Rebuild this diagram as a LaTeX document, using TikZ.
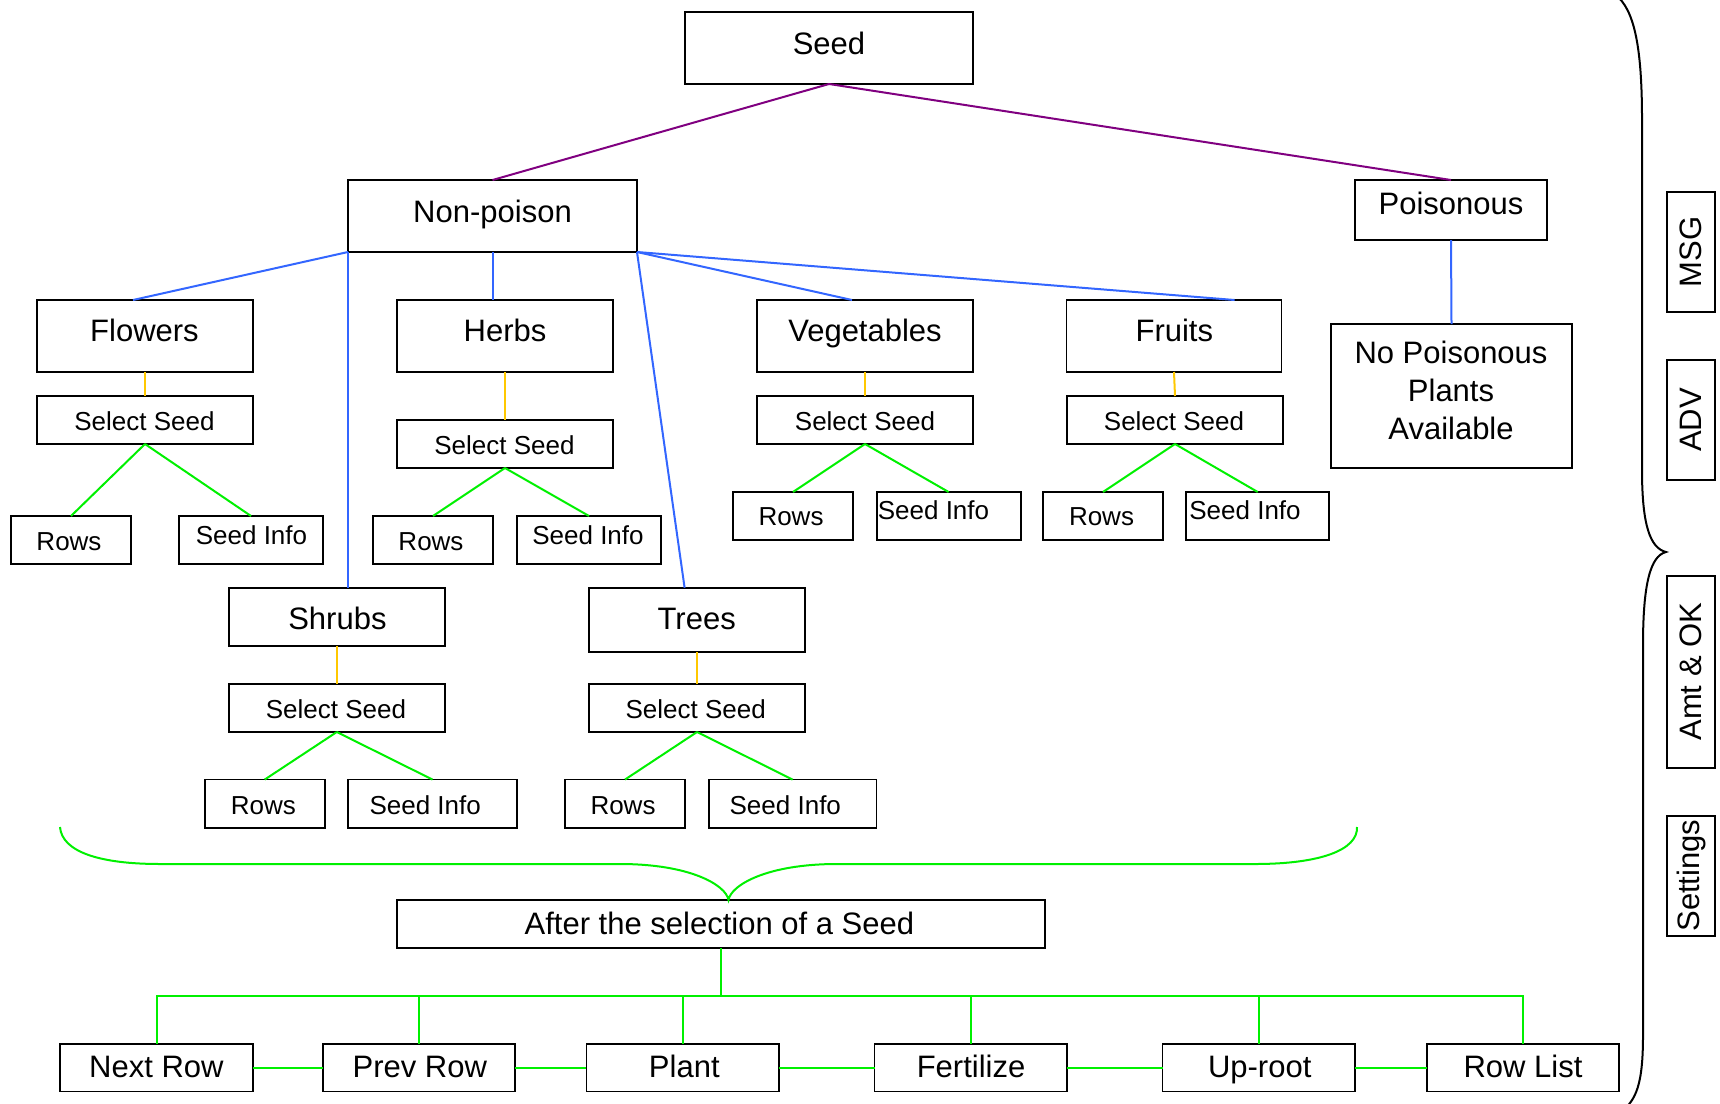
\documentclass[tikz,border=0pt]{standalone}
\usepackage{fontspec}
\setmainfont{Liberation Sans}
\usetikzlibrary{calc}

\definecolor{rootlink}{RGB}{128,0,128}
\definecolor{kindlink}{RGB}{51,102,255}
\definecolor{picklink}{RGB}{255,200,0}
\definecolor{actlink}{RGB}{0,240,0}

\begin{document}
\begin{tikzpicture}[x=1pt,y=-1pt,
  box/.style={draw=black, line width=1.8pt, inner sep=0pt, outer sep=0pt},
  big/.style={font=\fontsize{31}{37.9}\selectfont, inner sep=0pt, anchor=base},
  small/.style={font=\fontsize{26}{31}\selectfont, inner sep=0pt, anchor=base},
  sidebox/.style={box, rotate=90, minimum height=48pt, font=\fontsize{31}{37}\selectfont},
  rootln/.style={draw=rootlink, line width=2pt},
  kindln/.style={draw=kindlink, line width=2pt},
  pickln/.style={draw=picklink, line width=2pt},
  actln/.style={draw=actlink, line width=2pt},
  bracket/.style={draw=black, line width=2pt},
]
\useasboundingbox (0,0) rectangle (1720,1103);

% ---------- boxes ----------
\node[box, minimum width=288pt, minimum height=72pt] (seed) at (829,48) {};
\node[box, minimum width=289pt, minimum height=72pt] (nonpoison) at (492.5,216) {};
\node[box, minimum width=192pt, minimum height=60pt] (poison) at (1451,210) {};
\node[box, minimum width=241pt, minimum height=144pt] (nopoison) at (1451.5,396) {};

\node[box, minimum width=216pt, minimum height=72pt] (flowers) at (145,336) {};
\node[box, minimum width=216pt, minimum height=72pt] (herbs) at (505,336) {};
\node[box, minimum width=216pt, minimum height=72pt] (veg) at (865,336) {};
\node[box, minimum width=215pt, minimum height=72pt] (fruits) at (1174,336) {};

\node[box, minimum width=216pt, minimum height=48pt] (ssF) at (145,420) {};
\node[box, minimum width=216pt, minimum height=48pt] (ssH) at (505,444) {};
\node[box, minimum width=216pt, minimum height=48pt] (ssV) at (865,420) {};
\node[box, minimum width=216pt, minimum height=48pt] (ssFr) at (1175,420) {};

\node[box, minimum width=120pt, minimum height=48pt] (rowsF) at (71,540) {};
\node[box, minimum width=144pt, minimum height=48pt] (infoF) at (251,540) {};
\node[box, minimum width=120pt, minimum height=48pt] (rowsH) at (433,540) {};
\node[box, minimum width=144pt, minimum height=48pt] (infoH) at (589,540) {};
\node[box, minimum width=120pt, minimum height=48pt] (rowsV) at (793,516) {};
\node[box, minimum width=144pt, minimum height=48pt] (infoV) at (948.6,516) {};
\node[box, minimum width=120pt, minimum height=48pt] (rowsFr) at (1103,516) {};
\node[box, minimum width=143pt, minimum height=48pt] (infoFr) at (1257.7,516) {};

\node[box, minimum width=216pt, minimum height=58pt] (shrubs) at (336.8,616.8) {};
\node[box, minimum width=216.7pt, minimum height=64.3pt] (trees) at (697,619.9) {};
\node[box, minimum width=216pt, minimum height=48.4pt] (ssS) at (336.8,707.8) {};
\node[box, minimum width=216.7pt, minimum height=48.4pt] (ssT) at (697,707.8) {};

\node[box, minimum width=120pt, minimum height=48.5pt] (rowsS) at (264.7,803.8) {};
\node[box, minimum width=168.4pt, minimum height=48.5pt] (infoS) at (432.5,803.8) {};
\node[box, minimum width=120pt, minimum height=48.5pt] (rowsT) at (625,803.8) {};
\node[box, minimum width=167.8pt, minimum height=48.5pt] (infoT) at (792.6,803.8) {};

\node[box, minimum width=648.3pt, minimum height=48.1pt] (after) at (720.75,923.75) {};

\node[box, minimum width=192.5pt, minimum height=47.8pt] (nextrow) at (156.6,1067.6) {};
\node[box, minimum width=192.5pt, minimum height=47.8pt] (prevrow) at (419,1067.6) {};
\node[box, minimum width=192.5pt, minimum height=47.8pt] (plant) at (682.65,1067.6) {};
\node[box, minimum width=192.5pt, minimum height=47.8pt] (fert) at (970.8,1067.6) {};
\node[box, minimum width=192.5pt, minimum height=47.8pt] (uproot) at (1258.8,1067.6) {};
\node[box, minimum width=192.5pt, minimum height=47.8pt] (rowlist) at (1522.9,1067.6) {};

% ---------- side tabs ----------
\node[sidebox, minimum width=120pt] (msg) at (1691,251.8) {MSG};
\node[sidebox, minimum width=120pt] (adv) at (1691,419.8) {ADV};
\node[sidebox, minimum width=192pt] (amt) at (1691,671.7) {Amt \& OK};
\node[sidebox, minimum width=120pt] (settings) at (1691,875.6) {Settings};

% ---------- labels ----------
\node[big] (tseed) at (829,54.3) {Seed};
\node[big] (tnon) at (492.5,222) {Non-poison};
\node[big] (tpois) at (1451,214.3) {Poisonous};
\node[big, align=center] (tnopois) at (1451,439.3) {No Poisonous\\Plants\\Available};
\node[big] (tflow) at (144.5,341.8) {Flowers};
\node[big] (therb) at (505,341.8) {Herbs};
\node[big] (tveg) at (865,341.8) {Vegetables};
\node[big] (tfruit) at (1174.3,341.8) {Fruits};

\node[small] (tssF) at (144.5,430.4) {Select Seed};
\node[small] (tssH) at (504.5,454.3) {Select Seed};
\node[small] (tssV) at (865,430.4) {Select Seed};
\node[small] (tssFr) at (1174,430.4) {Select Seed};

\node[small] (trowsF) at (69,550) {Rows};
\node[small] (tinfoF) at (251.5,544.6) {Seed Info};
\node[small] (trowsH) at (431,550) {Rows};
\node[small] (tinfoH) at (588,544.6) {Seed Info};
\node[small] (trowsV) at (791,525.7) {Rows};
\node[small] (tinfoV) at (933.5,519.6) {Seed Info};
\node[small] (trowsFr) at (1101.5,525.7) {Rows};
\node[small] (tinfoFr) at (1245,519.6) {Seed Info};

\node[big] (tshrub) at (337.4,629.3) {Shrubs};
\node[big] (ttree) at (696.7,629.3) {Trees};
\node[small] (tssS) at (336,718.2) {Select Seed};
\node[small] (tssT) at (695.7,718.2) {Select Seed};
\node[small] (trowsS) at (263.4,814.5) {Rows};
\node[small] (tinfoS) at (425.2,814.5) {Seed Info};
\node[small] (trowsT) at (623,814.5) {Rows};
\node[small] (tinfoT) at (785.3,814.5) {Seed Info};

\node[big] (tafter) at (719.4,934) {After the selection of a Seed};

\node[big] (tnext) at (156.4,1077.7) {Next Row};
\node[big] (tprev) at (419.8,1077.7) {Prev Row};
\node[big] (tplant) at (684.3,1077.7) {Plant};
\node[big] (tfert) at (971,1077.7) {Fertilize};
\node[big] (tup) at (1259.7,1077.7) {Up-root};
\node[big] (tlist) at (1523,1077.7) {Row List};

% ---------- seed split ----------
\draw[rootln] (seed.south) -- (nonpoison.north);
\draw[rootln] (seed.south) -- (poison.north);
\draw[kindln] (poison.south) -- (nopoison.north);

% ---------- plant kinds ----------
\draw[kindln] (nonpoison.south west) -- ([xshift=-12pt]flowers.north);
\draw[kindln] (nonpoison.south) -- (nonpoison.south |- herbs.north);
\draw[kindln] (nonpoison.south west) -- (nonpoison.south west |- shrubs.north);
\draw[kindln] (nonpoison.south east) -- ([xshift=-12.4pt]trees.north);
\draw[kindln] (nonpoison.south east) -- ([xshift=-13pt]veg.north);
\draw[kindln] (nonpoison.south east) -- ([xshift=60.6pt]fruits.north);

% ---------- kind -> select seed ----------
\foreach \k/\s in {flowers/ssF, herbs/ssH, veg/ssV, fruits/ssFr, shrubs/ssS, trees/ssT}
  \draw[pickln] (\k.south) -- (\s.south |- \s.north);

% ---------- select seed -> rows / info ----------
\foreach \s/\r/\i in {ssF/rowsF/infoF, ssH/rowsH/infoH, ssV/rowsV/infoV,
                      ssFr/rowsFr/infoFr, ssS/rowsS/infoS, ssT/rowsT/infoT}{
  \draw[actln] (\s.south) -- (\r.north);
  \draw[actln] (\s.south) -- (\i.north);
}

% ---------- green brace gathering the selections ----------
\coordinate (bracetip) at (728.5,900);
\draw[actln] (60,827) .. controls (62,852) and (100,864) .. (160,864) -- (620,864)
  .. controls (690,864) and (726,885) .. (bracetip)
  .. controls (731,885) and (767,864) .. (837,864) -- (1255,864)
  .. controls (1320,864) and (1358,850) .. (1357,827);

% ---------- actions after selection ----------
\coordinate (bus) at (720.75,995.6);
\draw[actln] (after.south) -- (bus);
\draw[actln] (nextrow.north) -- (nextrow.north |- bus) -- (rowlist.north |- bus) -- (rowlist.north);
\foreach \b in {prevrow, plant, fert, uproot}
  \draw[actln] (\b.north) -- (\b.north |- bus);
\draw[actln] (nextrow.east) -- (prevrow.west);
\draw[actln] (prevrow.east) -- (plant.west);
\draw[actln] (plant.east) -- (fert.west);
\draw[actln] (fert.east) -- (uproot.west);
\draw[actln] (uproot.east) -- (rowlist.west);

% ---------- right-hand curly brace ----------
\coordinate (sidetip) at (1666,552);
\draw[bracket] (1619,-2) .. controls (1636,15) and (1642,55) .. (1642,120) -- (1642,470)
  .. controls (1642,525) and (1650,548) .. (sidetip)
  .. controls (1650,556) and (1643,585) .. (1643,645) -- (1643,1035)
  .. controls (1643,1085) and (1636,1100) .. (1621,1112);
\end{tikzpicture}
\end{document}
